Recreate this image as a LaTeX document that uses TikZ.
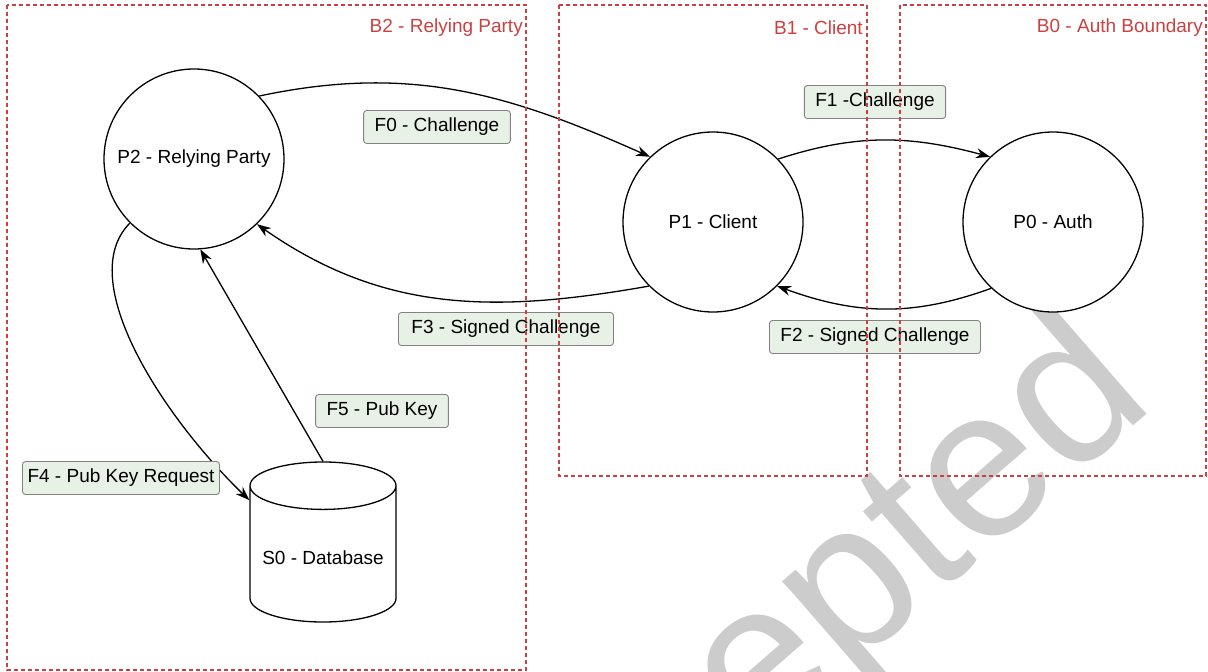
\documentclass[tikz,border=0pt]{standalone}
\usepackage{fontspec}
\setmainfont{Liberation Sans}
\usetikzlibrary{arrows.meta,shapes.geometric}

\definecolor{bndred}{RGB}{204,64,64}
\definecolor{lblfill}{RGB}{232,241,230}
\definecolor{lbldraw}{RGB}{130,130,130}
\newcommand{\flowfont}{\fontsize{19}{22}\selectfont}

\tikzset{
	proc/.style={circle, draw, fill=white, line width=1.3pt, minimum size=180pt, inner sep=0pt, font=\flowfont},
	store/.style={cylinder, shape border rotate=90, aspect=0.37, draw, fill=white, line width=1.3pt, minimum width=146pt, minimum height=160pt, font=\flowfont},
	flowlbl/.style={draw=lbldraw, fill=lblfill, line width=0.9pt, rounded corners=3pt, minimum height=33pt, inner xsep=11pt, inner ysep=0pt, font=\flowfont},
	flow/.style={-{Stealth[length=14pt,width=10pt,inset=4.5pt]}, line width=1.3pt},
	bnd/.style={draw=bndred, line width=1.3pt, dash pattern=on 4pt off 3pt},
	bndlbl/.style={anchor=east, inner sep=0pt, text=bndred, font=\flowfont}
}

\begin{document}
\begin{tikzpicture}[x=1pt, y=1pt]
	
	\useasboundingbox (0,0) rectangle (1208,-672);
	\clip (0,0) rectangle (1208,-672);
	
	\node [rotate=41, anchor=base west, inner sep=0pt, text=black!20, font=\fontsize{212}{212}\selectfont] (stamp) at (490,-985) {Accepted};
	
	\node [proc] (P2) at (194,-159) {P2 - Relying Party};
	\node [proc] (P1) at (713,-222) {P1 - Client};
	\node [proc] (P0) at (1053,-222) {P0 - Auth};
	\node [store, anchor=shape center] (S0) at (323,-542) {S0 - Database};
	
	\draw [flow] (P2.44) to[out=12, in=156] (P1.134);
	\draw [flow] (P1.44) to[out=18, in=165] (P0.134);
	\draw [flow] (P0.227) to[out=200, in=-20] (P1.315);
	\draw [flow] (P1.225) to[out=190, in=-35] (P2.314);
	\draw [flow] (P2.225) .. controls +(225:80) and +(136:120) .. (S0.142);
	\draw [flow] (S0.90) -- (P2.274);
	
	\node [flowlbl] (f0) at (437,-127) {F0 - Challenge};
	\node [flowlbl] (f1) at (875,-102) {F1 -Challenge};
	\node [flowlbl] (f2) at (875,-337) {F2 - Signed Challenge};
	\node [flowlbl, inner xsep=13pt] (f3) at (506,-329) {F3 - Signed Challenge};
	\node [flowlbl, inner xsep=5pt] (f4) at (121,-478) {F4 - Pub Key Request};
	\node [flowlbl] (f5) at (382,-411) {F5 - Pub Key};
	
	\draw [bnd] (7,-5) rectangle (526,-670);
	\draw [bnd] (559,-5) rectangle (867,-476);
	\draw [bnd] (900,-5) rectangle (1206,-476);
	
	\node [bndlbl] (b2) at (523,-28) {B2 - Relying Party};
	\node [bndlbl] (b1) at (863,-28) {B1 - Client};
	\node [bndlbl] (b0) at (1203,-28) {B0 - Auth Boundary};
	
\end{tikzpicture}
\end{document}
